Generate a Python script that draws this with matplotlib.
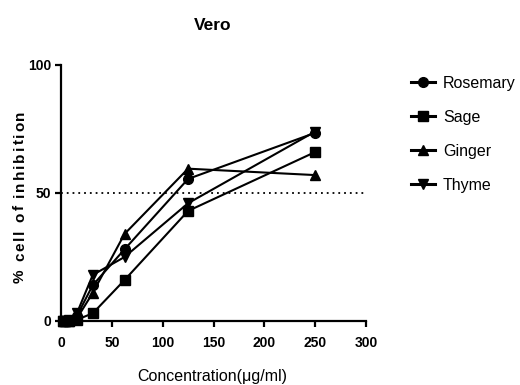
import numpy as np
import matplotlib.pyplot as plt
from matplotlib.font_manager import FontProperties, findfont
from matplotlib.ft2font import FT2Font

plt.rcParams['font.family'] = ['Liberation Sans', 'DejaVu Sans']

conc = [1.95, 3.9, 7.8, 15.6, 31.25, 62.5, 125, 250]
rosemary = [0, 0, 0, 2, 14, 28, 55.5, 73.5]
sage = [0, 0, 0, 0.5, 3, 16, 43, 66]
ginger = [0, 0, 0, 1, 11, 34, 59.5, 57]
thyme = [0, 0, 0.5, 3, 18, 25, 46, 74]

series = [('Rosemary', rosemary, 'o', 7), ('Sage', sage, 's', 7),
          ('Ginger', ginger, '^', 7.5), ('Thyme', thyme, 'v', 7.5)]

W, H = 520, 385
fig = plt.figure(figsize=(W / 100, H / 100), dpi=100)
ax = fig.add_axes([61 / W, 1 - 321 / H, 305 / W, 256 / H])

for name, vals, m, ms in series:
    ax.plot(conc, vals, color='black', lw=1.5, marker=m, ms=ms,
            label=name, clip_on=False, zorder=3)

ax.plot([0, 300], [50, 50], color='black', lw=1.3, ls=(0, (1, 2.2)), clip_on=False)

ax.set_xlim(0, 300)
ax.set_ylim(0, 100)
ax.set_xticks([0, 50, 100, 150, 200, 250, 300])
ax.set_yticks([0, 50, 100])
for s in ['top', 'right']:
    ax.spines[s].set_visible(False)
for s in ['left', 'bottom']:
    ax.spines[s].set_linewidth(1.6)
ax.tick_params(width=1.6, length=4, labelsize=10)
ax.tick_params(axis='x', pad=7)
ax.tick_params(axis='y', pad=3)
for lab in ax.get_xticklabels() + ax.get_yticklabels():
    lab.set_fontweight('bold')

fig.text(213 / W, 1 - 25 / H, 'Vero', fontsize=12.5, fontweight='bold',
         ha='center', va='center')
fig.text(212 / W, 1 - 377 / H, 'Concentration(\u03bcg/ml)', fontsize=11.5,
         ha='center', va='center')

# y label with letter spacing, drawn char by char (bottom to top)
ylab = '% cell of inhibition'
yfp = FontProperties(family='Liberation Sans', weight='bold', size=11)
ft = FT2Font(findfont(yfp))
ft.set_size(11, 100)
pos = 283.0
track = 2.0
for ch in ylab:
    fig.text(24 / W, 1 - pos / H, ch, fontproperties=yfp, rotation=90,
             rotation_mode='anchor', ha='left', va='baseline')
    g = ft.load_char(ord(ch))
    pos -= g.linearHoriAdvance / 65536 + track

leg = ax.legend(loc='upper left', bbox_to_anchor=(411 / W, 1 - 76 / H),
                bbox_transform=fig.transFigure, frameon=False, fontsize=11.5,
                handlelength=1.5, handletextpad=0.5, labelspacing=1.18,
                borderpad=0, borderaxespad=0)
for h in leg.legend_handles:
    h.set_linewidth(2.2)

fig.savefig('out.png', dpi=100)
